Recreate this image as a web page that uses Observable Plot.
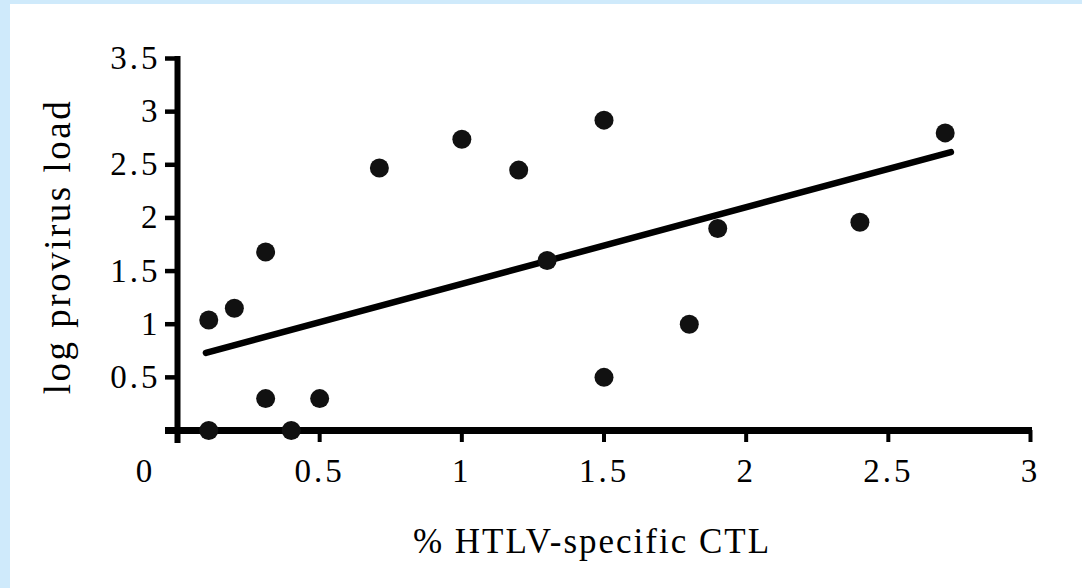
<!DOCTYPE html>
<html>
<head>
<meta charset="utf-8">
<script src="https://cdn.jsdelivr.net/npm/d3@7"></script>
<script src="https://cdn.jsdelivr.net/npm/@observablehq/plot@0.6"></script>
<style>
  html, body { margin: 0; padding: 0; background: #ffffff; }
  #frame {
    width: 1072px; height: 584px;
    border-left: 10px solid #cfeafb;
    border-top: 4px solid #cfeafb;
    background: #ffffff;
  }
  #chart svg text { letter-spacing: 3px; }
  #chart svg .ytitle text { letter-spacing: 2.5px; }
  #chart svg .xtitle text { letter-spacing: 2px; }
</style>
</head>
<body>
<div id="frame"><div id="chart"></div></div>
<script>
// Data
const ctl  = [0.11, 0.20, 0.31, 0.31, 0.50, 0.11, 0.40, 0.71, 1.00, 1.20, 1.30, 1.50, 1.50, 1.80, 1.90, 2.40, 2.70];
const load = [1.04, 1.15, 1.68, 0.30, 0.30, 0.00, 0.00, 2.47, 2.74, 2.45, 1.60, 2.92, 0.50, 1.00, 1.90, 1.96, 2.80];
const fitX = [0.10, 2.72];
const fitY = [0.73, 2.62];
const xTicks = [0.5, 1, 1.5, 2, 2.5, 3];
const xOrigin = [0];
const yTicks = [0.5, 1, 1.5, 2, 2.5, 3, 3.5];
const xLabel = "% HTLV-specific CTL";
const yLabel = "log provirus load";

const points = ctl.map((x, i) => ({x, y: load[i]}));
const fit = fitX.map((x, i) => ({x, y: fitY[i]}));

const chart = Plot.plot({
  width: 1072,
  height: 584,
  marginLeft: 167,
  marginRight: 52,
  marginTop: 54,
  marginBottom: 158,
  style: {fontFamily: "'Liberation Serif', 'Times New Roman', serif", background: "white", color: "black"},
  x: {domain: [0, 3]},
  y: {domain: [0, 3.5]},
  marks: [
    // axis lines
    Plot.ruleX([0], {strokeWidth: 6, insetBottom: -13, insetTop: -2}),
    Plot.ruleY([0], {strokeWidth: 7, insetLeft: -12, insetRight: -2}),
    // x ticks and labels
    Plot.axisX({ticks: xTicks, tickSize: 12, tickPadding: 16, strokeWidth: 4, fontSize: 33, label: null, tickFormat: d => String(d)}),
    Plot.axisX({ticks: xOrigin, tickSize: 0, tickPadding: 28, dx: -32, fontSize: 33, label: null, tickFormat: d => String(d)}),
    // y ticks and labels
    Plot.axisY({ticks: yTicks, tickSize: 12, tickPadding: 5, strokeWidth: 4.5, fontSize: 33, label: null, tickFormat: d => String(d)}),
    // regression line and points
    Plot.line(fit, {x: "x", y: "y", stroke: "black", strokeWidth: 6.5}),
    Plot.dot(points, {x: "x", y: "y", r: 9.5, fill: "#111", stroke: "none"}),
    // axis titles
    Plot.text([xLabel], {className: "xtitle", frameAnchor: "bottom", dy: 122, dx: -12, text: d => d, fontSize: 35, lineAnchor: "bottom", textAnchor: "middle"}),
    Plot.text([yLabel], {className: "ytitle", frameAnchor: "left", dx: -119, dy: 2, text: d => d, fontSize: 37, rotate: -90, lineAnchor: "middle", textAnchor: "middle"})
  ]
});
document.getElementById("chart").append(chart);
</script>
</body>
</html>
